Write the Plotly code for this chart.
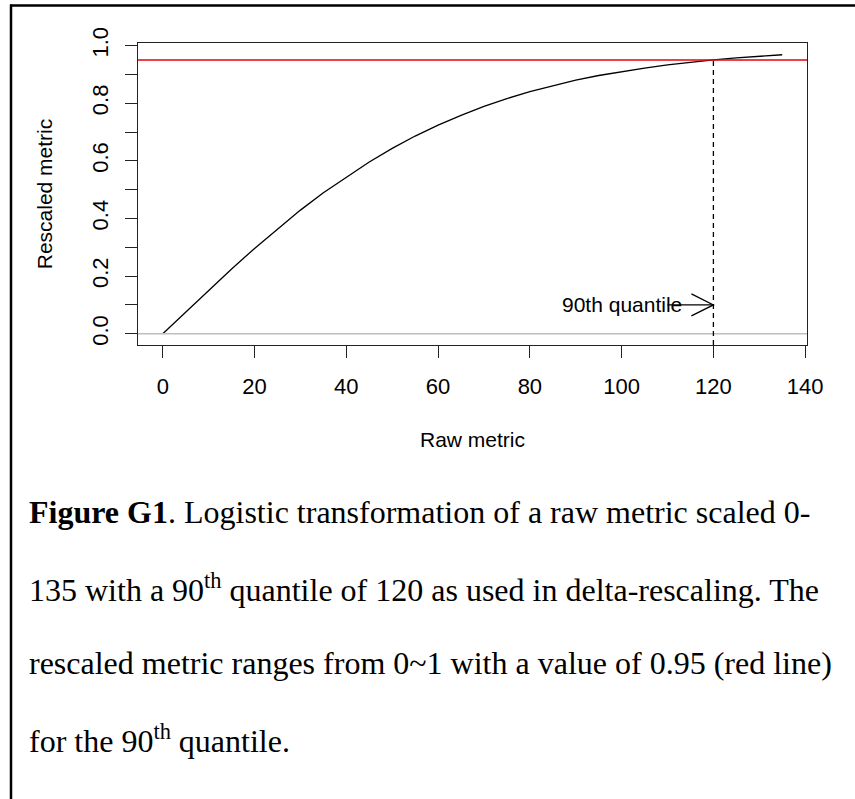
import plotly.graph_objects as go

# ---- data ----
raw_metric = [0, 5, 10, 15, 20, 25, 30, 35, 40, 45, 50, 55, 60, 65, 70,
              75, 80, 85, 90, 95, 100, 105, 110, 115, 120, 125, 130, 135]
rescaled = [0.0, 0.076, 0.152, 0.225, 0.296, 0.364, 0.429, 0.489, 0.544,
            0.596, 0.643, 0.686, 0.724, 0.758, 0.789, 0.816, 0.840, 0.861,
            0.880, 0.896, 0.910, 0.922, 0.933, 0.942, 0.950, 0.957, 0.963, 0.968]
q90_x = 120
q90_y = 0.95
arrow_y = 0.1
arrow_start_x = 110
label_x = 100
label_text = "90th quantile"
x_ticks = [0, 20, 40, 60, 80, 100, 120, 140]
y_ticks = [0.0, 0.2, 0.4, 0.6, 0.8, 1.0]
y_ticktext = ["0.0", "0.2", "0.4", "0.6", "0.8", "1.0"]
y_minor_ticks = [0.1, 0.3, 0.5, 0.7, 0.9]

caption_lines = [
    "<b>Figure G1</b>. Logistic transformation of a raw metric scaled 0-",
    "135 with a 90<sup>th</sup> quantile of 120 as used in delta-rescaling. The",
    "rescaled metric ranges from 0~1 with a value of 0.95 (red line)",
    "for the 90<sup>th</sup> quantile.",
]

W, H = 855, 799
L, R, T, B = 138, 48, 43, 454
plot_w = W - L - R
plot_h = H - T - B

x_range = [-5.4, 140.4]
y_range = [-0.039, 1.0088]

def px_to_paper_x(px):
    return (px - L) / plot_w

def py_to_paper_y(py):
    return (H - B - py) / plot_h

fig = go.Figure()
fig.add_trace(go.Scatter(x=raw_metric, y=rescaled, mode="lines",
                         line=dict(color="black", width=1.3),
                         hoverinfo="skip", showlegend=False))

tick_font = dict(family="Liberation Sans, Arial, sans-serif", size=22, color="black")
axis_font = dict(family="Liberation Sans, Arial, sans-serif", size=21, color="black")

shapes = []
# grey zero line
shapes.append(dict(type="line", xref="paper", yref="y", x0=0, x1=1, y0=0, y1=0,
                   line=dict(color="#bebebe", width=1.5), layer="above"))
# red line at 0.95
shapes.append(dict(type="line", xref="paper", yref="y", x0=0, x1=1, y0=q90_y, y1=q90_y,
                   line=dict(color="#e8000b", width=1.5), layer="above"))
# dashed vertical at 120
shapes.append(dict(type="line", xref="x", yref="y", x0=q90_x, x1=q90_x,
                   y0=y_range[0], y1=q90_y,
                   line=dict(color="black", width=1.3, dash="5px,4px")))
# arrow shaft
shapes.append(dict(type="line", xref="x", yref="y", x0=arrow_start_x, x1=q90_x,
                   y0=arrow_y, y1=arrow_y, line=dict(color="black", width=1.3)))
# open arrow head
shapes.append(dict(type="path", xref="x", yref="y", xsizemode="pixel", ysizemode="pixel",
                   xanchor=q90_x, yanchor=arrow_y,
                   path="M -22 11 L 0 0 L -22 -11",
                   line=dict(color="black", width=1.3)))
# page frame (top and left)
shapes.append(dict(type="line", xref="paper", yref="paper",
                   x0=px_to_paper_x(10), x1=px_to_paper_x(W + 5),
                   y0=py_to_paper_y(5.5), y1=py_to_paper_y(5.5),
                   line=dict(color="black", width=2.5)))
shapes.append(dict(type="line", xref="paper", yref="paper",
                   x0=px_to_paper_x(11), x1=px_to_paper_x(11),
                   y0=py_to_paper_y(4.5), y1=py_to_paper_y(H + 5),
                   line=dict(color="black", width=2.5)))

annotations = [dict(x=label_x, y=arrow_y, xref="x", yref="y", text=label_text,
                    showarrow=False, font=axis_font, xanchor="center", yanchor="middle")]

caption_y = [512, 588, 663, 739]
for line, cy in zip(caption_lines, caption_y):
    annotations.append(dict(x=px_to_paper_x(27), y=py_to_paper_y(cy),
                            xref="paper", yref="paper", text=line, showarrow=False,
                            xanchor="left", yanchor="middle", align="left",
                            font=dict(family="Liberation Serif, Times New Roman, serif",
                                      size=32, color="black")))

fig.update_layout(
    width=W, height=H,
    margin=dict(l=L, r=R, t=T, b=B, pad=0),
    paper_bgcolor="white", plot_bgcolor="white",
    shapes=shapes, annotations=annotations,
    xaxis=dict(range=x_range, tickvals=x_ticks, ticks="outside", ticklen=12,
               tickwidth=1.3, tickcolor="#222", showgrid=False, zeroline=False,
               showline=True, mirror=True, linecolor="#222", linewidth=1.3,
               tickfont=tick_font, ticklabelstandoff=9,
               title=dict(text="Raw metric", font=axis_font, standoff=34)),
    yaxis=dict(range=y_range, tickvals=y_ticks, ticktext=y_ticktext, ticks="outside",
               ticklen=12, tickwidth=1.3, tickcolor="#222", showgrid=False,
               zeroline=False, showline=True, mirror=True, linecolor="#222",
               linewidth=1.3, tickangle=-90, tickfont=tick_font, ticklabelstandoff=8,
               minor=dict(tickvals=y_minor_ticks, ticks="outside", ticklen=12,
                          tickwidth=1.3, tickcolor="#222", showgrid=False),
               title=dict(text="Rescaled metric", font=axis_font, standoff=29)),
)

fig.write_html("out.html", config={"displayModeBar": False},
               post_script="document.body.style.margin='0';")
